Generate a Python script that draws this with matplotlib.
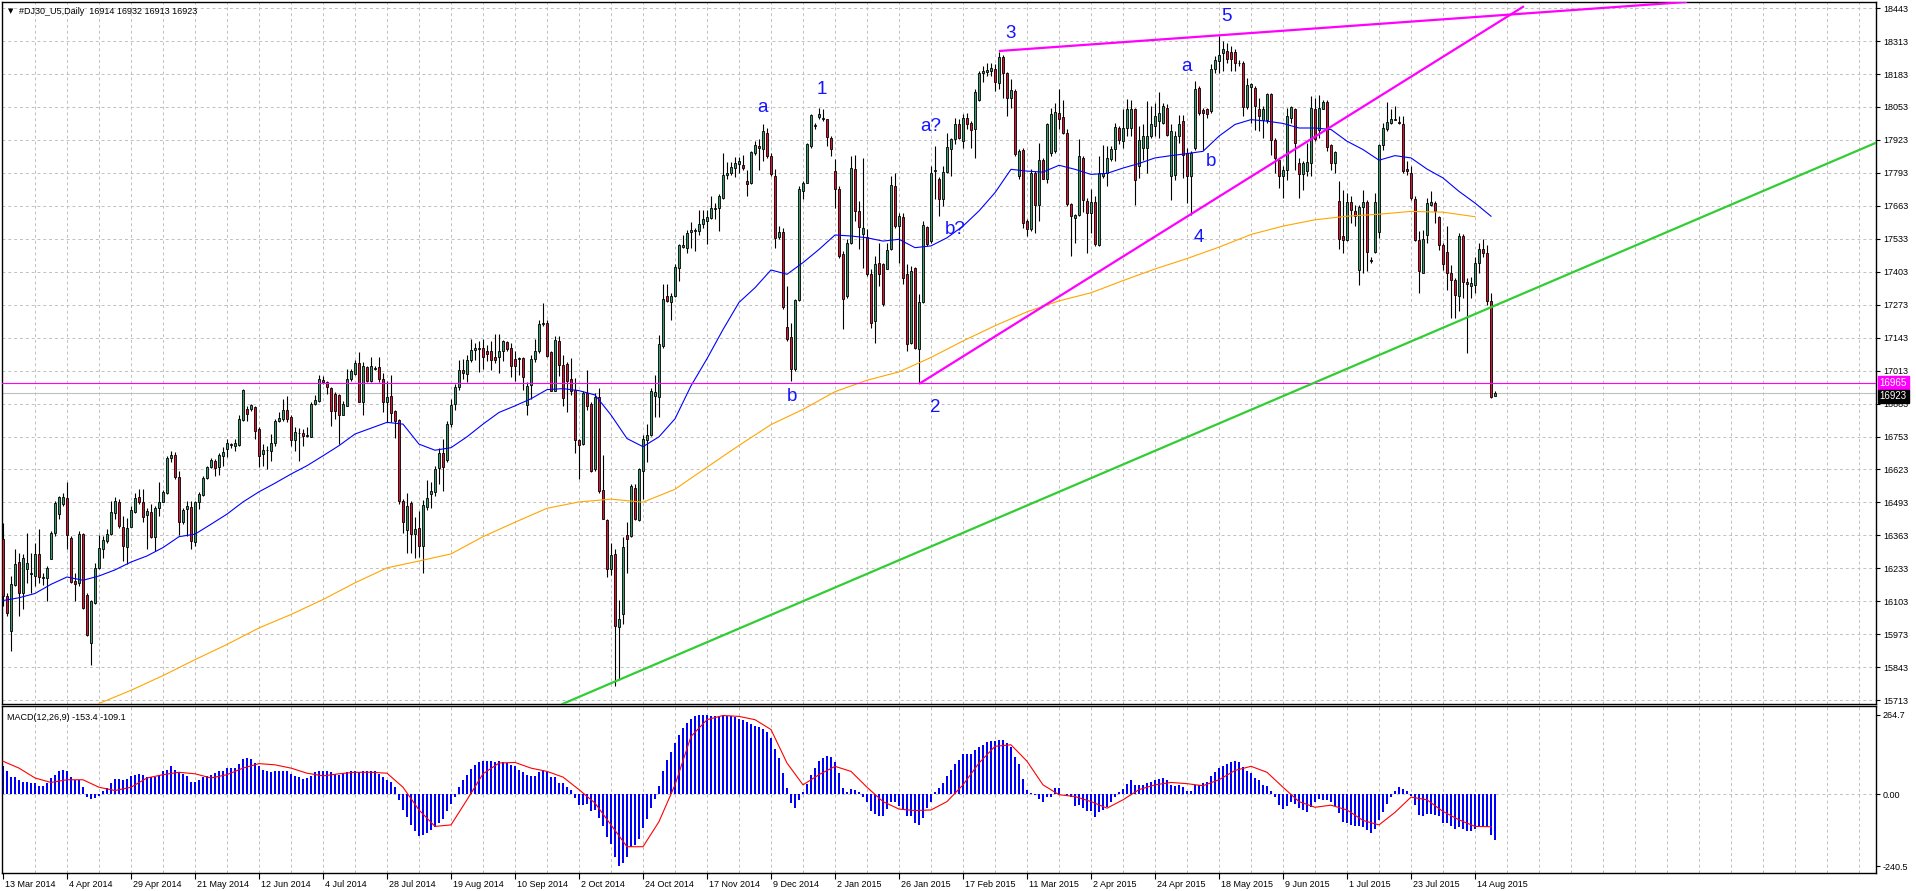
import numpy as np
import matplotlib
matplotlib.use('Agg')
import matplotlib.pyplot as plt
import matplotlib.transforms as mtransforms

# bottom axis labels, one every 16 daily bars
date_labels = ['13 Mar 2014', '4 Apr 2014', '29 Apr 2014', '21 May 2014', '12 Jun 2014', '4 Jul 2014',
               '28 Jul 2014', '19 Aug 2014', '10 Sep 2014', '2 Oct 2014', '24 Oct 2014', '17 Nov 2014',
               '9 Dec 2014', '2 Jan 2015', '26 Jan 2015', '17 Feb 2015', '11 Mar 2015', '2 Apr 2015',
               '24 Apr 2015', '18 May 2015', '9 Jun 2015', '1 Jul 2015', '23 Jul 2015', '14 Aug 2015']

# daily OHLC of #DJ30_U5
opens = [
    16348, 16124, 15985, 16167, 16259, 16134, 16229, 16210, 16203, 16291,
    16196, 16196, 16271, 16374, 16449, 16486, 16510, 16354, 16183, 16176,
    16368, 16126, 15939, 16095, 16236, 16308, 16341, 16368, 16453, 16493,
    16398, 16319, 16397, 16456, 16513, 16493, 16443, 16457, 16358, 16470,
    16495, 16530, 16667, 16680, 16592, 16414, 16466, 16476, 16338, 16493,
    16522, 16589, 16631, 16655, 16631, 16677, 16704, 16719, 16714, 16720,
    16820, 16862, 16862, 16869, 16783, 16684, 16698, 16697, 16727, 16813,
    16822, 16859, 16829, 16741, 16765, 16765, 16756, 16753, 16882, 16895,
    16977, 16970, 16944, 16921, 16915, 16836, 16875, 16981, 17000, 17044,
    16888, 17027, 16974, 17021, 17027, 16981, 16888, 16914, 16855, 16819,
    16498, 16386, 16490, 16369, 16394, 16322, 16475, 16525, 16533, 16630,
    16690, 16662, 16802, 16881, 16948, 17017, 16998, 17053, 17094, 17097,
    17103, 17092, 17089, 17067, 17067, 17089, 17125, 17103, 17057, 17057,
    17063, 16877, 16955, 17057, 17089, 17196, 17200, 17086, 16934, 17129,
    17034, 17039, 16981, 16938, 16738, 16723, 16924, 16881, 16623, 16910,
    16541, 16422, 16232, 16289, 16002, 16054, 16365, 16361, 16551, 16422,
    16616, 16740, 16759, 16914, 16910, 17110, 17308, 17282, 17308, 17418,
    17501, 17497, 17559, 17562, 17562, 17590, 17605, 17616, 17652, 17655,
    17694, 17784, 17794, 17812, 17827, 17823, 17759, 17755, 17870, 17899,
    17886, 17951, 17859, 17781, 17540, 17560, 17186, 17147, 17018, 17292,
    17721, 17754, 17899, 17976, 18015, 18011, 18004, 17932, 17800, 17728,
    17472, 17307, 17515, 17810, 17643, 17551, 17541, 17393, 17209, 17436,
    17432, 17415, 17491, 17741, 17583, 17620, 17393, 17123, 17419, 17100,
    17284, 17581, 17524, 17800, 17770, 17691, 17796, 17888, 17925, 17984,
    17919, 18011, 17988, 17965, 18080, 18185, 18191, 18195, 18201, 18146,
    18251, 18185, 18090, 18116, 17781, 17883, 17603, 17570, 17794, 17665,
    17844, 17767, 17873, 17879, 18030, 18015, 17949, 17669, 17616, 17626,
    17853, 17682, 17636, 17678, 17507, 17781, 17791, 17846, 17886, 17971,
    17919, 17971, 17970, 18043, 17819, 17891, 17891, 17938, 17977, 17997,
    17990, 18050, 17780, 17786, 17938, 17997, 17872, 17780, 17891, 18129,
    18040, 18043, 18036, 18204, 18234, 18264, 18273, 18269, 18269, 18225,
    18227, 18053, 18132, 18129, 18046, 18003, 18003, 18106, 17924, 17845,
    17780, 17806, 18010, 18046, 17830, 17790, 17799, 17832, 18046, 17964,
    18046, 18072, 17901, 17830, 17681, 17545, 17527, 17677, 17641, 17411,
    17658, 17677, 17450, 17479, 17558, 17901, 17967, 17990, 18003, 17993,
    17984, 17809, 17793, 17690, 17529, 17400, 17549, 17668, 17674, 17619,
    17510, 17479, 17400, 17369, 17308, 17545, 17361, 17348, 17352, 17437,
    17492, 17477, 17286, 16914]
highs = [
    16411, 16137, 16203, 16308, 16295, 16289, 16374, 16295, 16335, 16390,
    16216, 16242, 16381, 16500, 16520, 16532, 16572, 16361, 16216, 16381,
    16374, 16137, 16110, 16256, 16364, 16361, 16387, 16500, 16513, 16506,
    16440, 16433, 16480, 16530, 16545, 16545, 16473, 16486, 16480, 16572,
    16543, 16675, 16695, 16691, 16618, 16473, 16500, 16500, 16500, 16535,
    16598, 16638, 16667, 16664, 16688, 16710, 16743, 16728, 16743, 16836,
    16941, 16875, 16882, 16875, 16790, 16724, 16717, 16763, 16822, 16849,
    16902, 16912, 16836, 16790, 16786, 16783, 16790, 16888, 16915, 16994,
    16991, 16974, 16948, 16928, 16921, 16895, 17020, 17020, 17053, 17086,
    17047, 17033, 17066, 17033, 17067, 17003, 16974, 16996, 16859, 16823,
    16508, 16530, 16498, 16437, 16458, 16504, 16580, 16573, 16637, 16709,
    16745, 16816, 16902, 16960, 17053, 17060, 17074, 17139, 17120, 17129,
    17139, 17114, 17129, 17157, 17157, 17132, 17129, 17120, 17089, 17067,
    17067, 16967, 17074, 17139, 17211, 17278, 17211, 17089, 17149, 17149,
    17074, 17046, 17063, 16985, 16745, 16931, 17017, 16888, 16924, 16945,
    16680, 16429, 16332, 16308, 16110, 16358, 16415, 16565, 16565, 16630,
    16759, 16802, 16945, 16996, 17153, 17354, 17354, 17318, 17433, 17511,
    17547, 17569, 17598, 17576, 17648, 17648, 17648, 17702, 17676, 17708,
    17870, 17834, 17834, 17855, 17855, 17863, 17805, 17880, 17920, 17927,
    17984, 17971, 17872, 17807, 17583, 17577, 17347, 17202, 17294, 17741,
    17761, 17912, 18024, 17991, 18050, 18043, 18007, 17938, 17846, 17741,
    17485, 17531, 17859, 17862, 17682, 17853, 17570, 17413, 17465, 17518,
    17439, 17518, 17781, 17794, 17636, 17633, 17432, 17426, 17423, 17314,
    17603, 17583, 17820, 17899, 17778, 17820, 17949, 17932, 18011, 18004,
    18024, 18030, 17997, 18122, 18195, 18214, 18228, 18228, 18221, 18270,
    18256, 18191, 18162, 18122, 17886, 17892, 17610, 17807, 17800, 17912,
    17853, 17991, 18050, 18067, 18122, 18080, 17965, 17676, 17629, 17925,
    17859, 17695, 17728, 17702, 17859, 17902, 17899, 17899, 17991, 17978,
    18043, 18083, 18082, 18050, 17977, 17984, 18076, 18056, 18069, 18111,
    18069, 18063, 17984, 17957, 18023, 18023, 17891, 17878, 18155, 18135,
    18050, 18050, 18221, 18254, 18333, 18313, 18306, 18293, 18280, 18240,
    18234, 18168, 18148, 18135, 18089, 18056, 18109, 18109, 17931, 17852,
    17819, 18050, 18056, 18050, 17852, 17839, 17911, 18098, 18089, 18102,
    18082, 18082, 17905, 17878, 17760, 17727, 17714, 17701, 17668, 17668,
    17727, 17687, 17463, 17714, 17905, 17990, 18072, 18043, 18056, 18017,
    18019, 17839, 17819, 17700, 17562, 17569, 17694, 17720, 17681, 17624,
    17516, 17582, 17430, 17380, 17557, 17552, 17380, 17384, 17463, 17516,
    17532, 17510, 17319, 16932]
lows = [
    16084, 16045, 15906, 16163, 16045, 16071, 16176, 16137, 16163, 16176,
    16167, 16104, 16268, 16361, 16427, 16480, 16308, 16176, 16104, 16163,
    16071, 15966, 15853, 16091, 16229, 16275, 16335, 16364, 16427, 16394,
    16262, 16249, 16396, 16453, 16486, 16414, 16308, 16354, 16302, 16440,
    16493, 16526, 16651, 16585, 16364, 16407, 16361, 16308, 16321, 16466,
    16519, 16585, 16629, 16598, 16601, 16635, 16671, 16706, 16697, 16714,
    16816, 16816, 16855, 16743, 16631, 16638, 16625, 16658, 16717, 16809,
    16816, 16809, 16717, 16697, 16658, 16717, 16750, 16750, 16878, 16888,
    16961, 16921, 16796, 16822, 16724, 16836, 16872, 16974, 16994, 16888,
    16836, 16970, 16970, 17014, 16967, 16848, 16809, 16809, 16748, 16487,
    16372, 16293, 16293, 16272, 16279, 16214, 16465, 16472, 16518, 16565,
    16537, 16652, 16791, 16859, 16938, 16981, 16967, 17046, 17053, 17006,
    17020, 17049, 17017, 17043, 17003, 17049, 17089, 16988, 16971, 16996,
    16938, 16838, 16902, 17046, 17082, 17189, 17067, 16931, 16931, 16990,
    16874, 16848, 16917, 16687, 16587, 16719, 16859, 16613, 16619, 16530,
    16427, 16200, 16207, 15770, 15792, 16014, 16214, 16358, 16422, 16418,
    16508, 16652, 16756, 16831, 16831, 17103, 17282, 17211, 17304, 17368,
    17497, 17476, 17497, 17483, 17547, 17576, 17511, 17612, 17612, 17562,
    17688, 17769, 17784, 17777, 17791, 17805, 17702, 17748, 17863, 17805,
    17840, 17853, 17781, 17498, 17531, 17255, 17130, 16972, 17011, 17288,
    17689, 17752, 17892, 17965, 18005, 17997, 17899, 17859, 17656, 17459,
    17176, 17301, 17511, 17603, 17491, 17419, 17386, 17183, 17123, 17347,
    17268, 17413, 17489, 17577, 17439, 17353, 17091, 17117, 17097, 16966,
    17281, 17505, 17518, 17689, 17623, 17662, 17793, 17781, 17905, 17925,
    17892, 17965, 17892, 17853, 18076, 18150, 18175, 18175, 18116, 18122,
    18090, 18017, 18050, 17859, 17767, 17577, 17544, 17564, 17557, 17603,
    17767, 17754, 17859, 17873, 17965, 17945, 17662, 17465, 17518, 17623,
    17639, 17478, 17557, 17505, 17505, 17774, 17741, 17840, 17840, 17905,
    17892, 17938, 17938, 17668, 17773, 17845, 17793, 17931, 17938, 17931,
    17984, 17938, 17687, 17766, 17911, 17773, 17674, 17628, 17885, 18023,
    17885, 18010, 18030, 18188, 18188, 18194, 18227, 18194, 18194, 18214,
    18017, 18043, 17990, 17964, 17957, 17931, 17990, 17865, 17793, 17733,
    17694, 17766, 17990, 17806, 17694, 17727, 17780, 17780, 17918, 17931,
    18043, 17878, 17806, 17793, 17492, 17477, 17523, 17595, 17582, 17351,
    17398, 17404, 17437, 17477, 17536, 17885, 17957, 17984, 18000, 17984,
    17793, 17786, 17687, 17523, 17319, 17398, 17516, 17661, 17595, 17490,
    17411, 17332, 17220, 17220, 17250, 17300, 17081, 17300, 17320, 17398,
    17460, 17270, 16904, 16913]
closes = [
    16124, 16058, 16170, 16252, 16137, 16273, 16256, 16215, 16291, 16199,
    16200, 16236, 16374, 16490, 16513, 16513, 16365, 16180, 16170, 16368,
    16077, 15969, 16104, 16236, 16315, 16344, 16368, 16456, 16500, 16401,
    16321, 16391, 16463, 16509, 16493, 16437, 16460, 16358, 16470, 16495,
    16535, 16668, 16680, 16592, 16414, 16463, 16480, 16341, 16493, 16528,
    16588, 16631, 16659, 16629, 16680, 16693, 16726, 16720, 16726, 16822,
    16936, 16842, 16878, 16776, 16677, 16700, 16700, 16727, 16816, 16826,
    16859, 16822, 16741, 16770, 16767, 16754, 16760, 16882, 16898, 16981,
    16968, 16948, 16855, 16855, 16838, 16882, 16981, 17010, 17044, 16891,
    17033, 16974, 17031, 17023, 16981, 16888, 16910, 16845, 16816, 16498,
    16415, 16480, 16369, 16389, 16322, 16482, 16511, 16537, 16623, 16690,
    16633, 16802, 16877, 16948, 17017, 17003, 17056, 17096, 17103, 17103,
    17067, 17077, 17053, 17053, 17089, 17129, 17100, 17031, 17031, 17063,
    16988, 16953, 17060, 17089, 17196, 17199, 17070, 16934, 17135, 17034,
    16905, 16971, 16934, 16738, 16719, 16924, 16874, 16616, 16910, 16537,
    16429, 16232, 16286, 16006, 16035, 16318, 16350, 16558, 16429, 16623,
    16745, 16759, 16934, 16928, 17117, 17297, 17289, 17308, 17421, 17507,
    17507, 17555, 17569, 17569, 17593, 17610, 17619, 17655, 17655, 17702,
    17784, 17794, 17817, 17831, 17841, 17812, 17751, 17874, 17903, 17891,
    17958, 17859, 17787, 17537, 17560, 17265, 17137, 17018, 17292, 17731,
    17752, 17906, 18020, 17981, 18024, 18004, 17936, 17886, 17731, 17465,
    17294, 17518, 17813, 17643, 17581, 17577, 17393, 17202, 17432, 17393,
    17275, 17489, 17744, 17583, 17623, 17380, 17117, 17406, 17104, 17284,
    17586, 17511, 17794, 17802, 17691, 17796, 17896, 17925, 17987, 17932,
    18011, 17984, 17962, 18112, 18188, 18195, 18199, 18205, 18151, 18251,
    18185, 18090, 18120, 17866, 17879, 17597, 17570, 17794, 17665, 17844,
    17770, 17984, 18024, 18033, 18004, 17949, 17669, 17623, 17626, 17859,
    17686, 17636, 17678, 17511, 17794, 17791, 17853, 17886, 17974, 17923,
    17971, 18043, 18046, 17766, 17924, 17938, 17938, 17984, 18017, 18030,
    18056, 17944, 17957, 17938, 17984, 17865, 17780, 17872, 18125, 18030,
    18030, 18027, 18204, 18240, 18256, 18280, 18243, 18243, 18227, 18227,
    18053, 18138, 18142, 18056, 18017, 18046, 18106, 17922, 17852, 17780,
    17806, 18017, 18053, 17911, 17790, 17830, 17835, 18050, 17927, 18050,
    18072, 17895, 17830, 17874, 17532, 17527, 17677, 17648, 17621, 17658,
    17677, 17479, 17444, 17677, 17901, 17970, 17993, 18006, 18006, 17990,
    17799, 17799, 17694, 17529, 17404, 17532, 17674, 17677, 17641, 17510,
    17434, 17400, 17369, 17312, 17543, 17361, 17355, 17358, 17437, 17492,
    17477, 17286, 16910, 16923]

# blue moving average, one reading every 4 bars (bar 0 .. 372)
ma_blue = [
    16106, 16117, 16134, 16170, 16199, 16186, 16203, 16227, 16258, 16282,
    16315, 16358, 16368, 16407, 16447, 16495, 16535, 16569, 16605, 16638,
    16677, 16717, 16763, 16786, 16809, 16802, 16723, 16699, 16709, 16752,
    16802, 16848, 16874, 16902, 16938, 16942, 16934, 16917, 16838, 16745,
    16713, 16752, 16823, 16953, 17060, 17175, 17282, 17340, 17410, 17393,
    17439, 17491, 17548, 17544, 17537, 17524, 17531, 17498, 17505, 17537,
    17583, 17643, 17715, 17807, 17800, 17796, 17823, 17807, 17787, 17791,
    17812, 17830, 17852, 17861, 17869, 17878, 17938, 17984, 18003, 17997,
    17988, 17970, 17970, 17964, 17918, 17885, 17843, 17861, 17852, 17808,
    17773, 17720, 17674, 17622]
# orange moving average, one reading every 8 bars (bar 24 .. 368)
ma_orange = [
    15700, 15752, 15810, 15873, 15933, 15998, 16051, 16110, 16176, 16235,
    16262, 16290, 16358, 16415, 16470, 16495, 16506, 16494, 16545, 16632,
    16718, 16800, 16860, 16930, 16975, 17008, 17065, 17130, 17190, 17245,
    17288, 17320, 17368, 17414, 17455, 17500, 17550, 17583, 17608, 17622,
    17630, 17641, 17638, 17620]

# MACD(12,26,9): main line (histogram, every bar) and signal (every 4 bars)
macd_main = [
    95, 76, 57, 57, 46, 42, 42, 37, 37, 28,
    28, 37, 54, 65, 76, 82, 78, 57, 48, 48,
    23, -8, -17, -13, -6, 9, 20, 37, 50, 50,
    46, 50, 59, 65, 68, 65, 57, 57, 57, 65,
    76, 82, 93, 82, 73, 68, 59, 42, 42, 46,
    57, 61, 65, 70, 76, 79, 87, 87, 87, 102,
    117, 121, 117, 104, 93, 82, 76, 73, 76, 76,
    79, 76, 68, 61, 57, 50, 54, 61, 73, 76,
    79, 76, 73, 68, 65, 68, 73, 76, 79, 73,
    76, 76, 76, 76, 68, 57, 48, 39, 23, -19,
    -53, -77, -103, -122, -140, -136, -129, -120, -111, -95,
    -84, -58, -32, -8, 23, 48, 65, 84, 98, 106,
    110, 112, 110, 106, 110, 106, 104, 98, 93, 82,
    73, 65, 61, 61, 73, 82, 73, 57, 57, 37,
    37, 23, 15, -13, -36, -36, -32, -55, -53, -80,
    -106, -144, -167, -209, -239, -231, -209, -176, -170, -151,
    -114, -84, -47, -17, 28, 76, 115, 140, 171, 199,
    221, 238, 252, 260, 264, 265, 265, 263, 263, 260,
    263, 263, 263, 258, 252, 247, 240, 233, 228, 225,
    218, 207, 188, 151, 121, 70, 20, -30, -47, -21,
    6, 35, 65, 87, 110, 121, 126, 124, 106, 70,
    20, 6, 17, 15, 6, -10, -28, -58, -66, -73,
    -73, -50, -25, -28, -39, -53, -73, -73, -97, -103,
    -80, -47, -25, 6, 20, 37, 61, 82, 102, 115,
    135, 135, 135, 149, 158, 165, 173, 177, 177, 182,
    180, 171, 158, 124, 102, 50, 15, 3, -2, -17,
    -25, -10, -8, 20, 20, 1, -6, -10, -41, -36,
    -47, -55, -58, -75, -61, -53, -44, -25, -8, 6,
    17, 35, 46, 31, 31, 31, 37, 39, 46, 50,
    54, 46, 31, 28, 31, 23, 12, 9, 31, 31,
    37, 39, 61, 73, 87, 95, 102, 106, 110, 106,
    91, 79, 70, 54, 46, 31, 26, 12, -10, -36,
    -50, -39, -25, -32, -47, -53, -61, -44, -25, -17,
    -21, -19, -25, -41, -64, -92, -95, -103, -108, -108,
    -111, -120, -131, -117, -86, -61, -32, -8, 12, 23,
    17, 12, -6, -36, -69, -73, -66, -66, -69, -73,
    -95, -95, -106, -117, -111, -117, -122, -122, -117, -106,
    -106, -111, -138, -153.4]
macd_signal = [
    110, 87, 54, 39, 48, 48, 23, 12, 23, 54,
    65, 73, 68, 54, 65, 87, 102, 98, 87, 70,
    61, 68, 73, 73, 70, 23, -53, -108, -103, -19,
    68, 104, 106, 87, 76, 57, 15, -30, -103, -176,
    -176, -92, 31, 193, 249, 263, 260, 249, 216, 104,
    31, 65, 93, 76, 23, -25, -50, -55, -53, -25,
    31, 104, 160, 165, 110, 31, -2, -8, -25, -47,
    -19, 15, 31, 39, 35, 28, 48, 79, 93, 73,
    23, -25, -44, -37, -53, -88, -103, -61, -10, -19,
    -58, -86, -108, -109.1]

# Elliott wave marks drawn on the chart
wave_text = ['a', '1', 'b', 'a?', 'b?', '2', '3', 'a', 'b', '4', '5']
wave_bar = [189.75, 204.75, 197.25, 232, 238, 233, 252, 295.75, 302, 299, 305.75]
wave_price = [18049, 18120, 16909, 17974, 17571, 16869, 18344, 18214, 17836, 17540, 18411]

# hand drawn trendlines: (bar, price) anchors
top_line = [(249.25, 18274), (420.75, 18467)]
wedge_line = [(229.25, 16963), (380, 18448)]
support_line = [(153.5, 15790), (376.75, 17295)]
level_line = 16965
bid_price = 16923

W, H = 1916, 891
fig = plt.figure(figsize=(W / 100, H / 100), dpi=100)
fig.patch.set_facecolor('white')
plt.rcParams['font.family'] = ['Liberation Sans', 'DejaVu Sans']

ax = fig.add_axes([2 / W, 1 - 704 / H, 1874 / W, 702 / H])
mx = fig.add_axes([2 / W, 1 - 873 / H, 1874 / W, 167 / H])

n = len(closes)
x = np.arange(n)
o = np.array(opens, float)
h = np.array(highs, float)
l = np.array(lows, float)
c = np.array(closes, float)
xlim = (-0.25, 468.25)

grid_kw = dict(color='#c0c0c0', lw=0.7, ls=(0, (3, 3)), zorder=0)
price_ticks = np.arange(18443, 15700, -130)
for a in (ax, mx):
    a.set_xlim(*xlim)
    for gx in np.arange(8, 469, 8):
        a.axvline(gx, **grid_kw)
    for s in a.spines.values():
        s.set_color('black')
        s.set_linewidth(1.0)
for p in price_ticks:
    ax.axhline(p, **grid_kw)

# candles
ax.vlines(x, l, h, color='black', lw=0.8, zorder=2)
up = c >= o
body = np.maximum(np.abs(c - o), 3)
ax.bar(x[up], body[up], bottom=o[up], width=0.72, color='#3a9a6c',
       edgecolor='black', lw=0.6, zorder=3)
ax.bar(x[~up], body[~up], bottom=c[~up], width=0.72, color='#dc1430',
       edgecolor='black', lw=0.6, zorder=3)

# moving averages
ax.plot(np.arange(len(ma_blue)) * 4, ma_blue, color='#0000ff', lw=0.8, zorder=4)
ax.plot(24 + np.arange(len(ma_orange)) * 8, ma_orange, color='#ffa500', lw=0.8, zorder=4)

# lines
ax.axhline(level_line, color='#ff00ff', lw=0.8, zorder=4)
ax.axhline(bid_price, color='#c0c0c0', lw=0.8, zorder=1)
ax.plot(*zip(*top_line), color='#ff00ff', lw=1.6, zorder=5)
ax.plot(*zip(*wedge_line), color='#ff00ff', lw=1.6, zorder=5)
ax.axline(support_line[0], support_line[1], color='#32cd32', lw=1.6, zorder=5)

for t, bx, py in zip(wave_text, wave_bar, wave_price):
    ax.text(bx, py, t, color='#1414ff', fontsize=13.5, ha='center', va='center', zorder=6)

ax.set_ylim(15698, 18467)
ax.set_xticks([])
ax.set_yticks(price_ticks)
ax.set_yticklabels([str(p) for p in price_ticks])
ax.yaxis.tick_right()
ax.tick_params(axis='y', direction='out', length=3, width=0.8, pad=2, labelsize=6.5)

tag = mtransforms.blended_transform_factory(ax.transAxes, ax.transData)
ax.text(1.002, level_line, str(level_line), transform=tag, color='white', fontsize=7,
        va='center', ha='left', zorder=7,
        bbox=dict(boxstyle='square,pad=0.2', fc='#ff00ff', ec='#ff00ff'))
ax.text(1.002, bid_price - 12, str(bid_price), transform=tag, color='white', fontsize=7,
        va='center', ha='left', zorder=7,
        bbox=dict(boxstyle='square,pad=0.2', fc='black', ec='black'))

ax.text(6 / 1874, 1 - 9 / 702, '\u25bc', transform=ax.transAxes, fontsize=5,
        va='center', ha='left', family='DejaVu Sans')
ax.text(17 / 1874, 1 - 9 / 702, '#DJ30_U5,Daily  16914 16932 16913 16923',
        transform=ax.transAxes, fontsize=6.5, va='center', ha='left')

# MACD panel
mx.bar(x, macd_main, width=0.62, color='#0000ff', zorder=2)
mx.plot(np.arange(len(macd_signal)) * 4, macd_signal, color='#ff0000', lw=0.8, zorder=3)
mx.axhline(0, **grid_kw)
mx.set_ylim(-263.9, 294.8)
mx.set_yticks([264.7, 0, -240.5])
mx.set_yticklabels(['264.7', '0.00', '-240.5'])
mx.yaxis.tick_right()
mx.tick_params(axis='y', direction='out', length=3, width=0.8, pad=2, labelsize=6.5)
mx.text(5 / 1874, 1 - 12 / 167, 'MACD(12,26,9) -153.4 -109.1', transform=mx.transAxes,
        fontsize=6.5, va='center', ha='left')

mx.set_xticks(np.arange(len(date_labels)) * 16)
mx.set_xticklabels(date_labels, ha='left', fontsize=6.5)
mx.tick_params(axis='x', direction='out', length=4, width=0.8, pad=1)
shift = mtransforms.ScaledTranslation(2 / 100, 0, fig.dpi_scale_trans)
for lab in mx.get_xticklabels():
    lab.set_transform(lab.get_transform() + shift)

fig.savefig('out.png', dpi=100, facecolor='white')
